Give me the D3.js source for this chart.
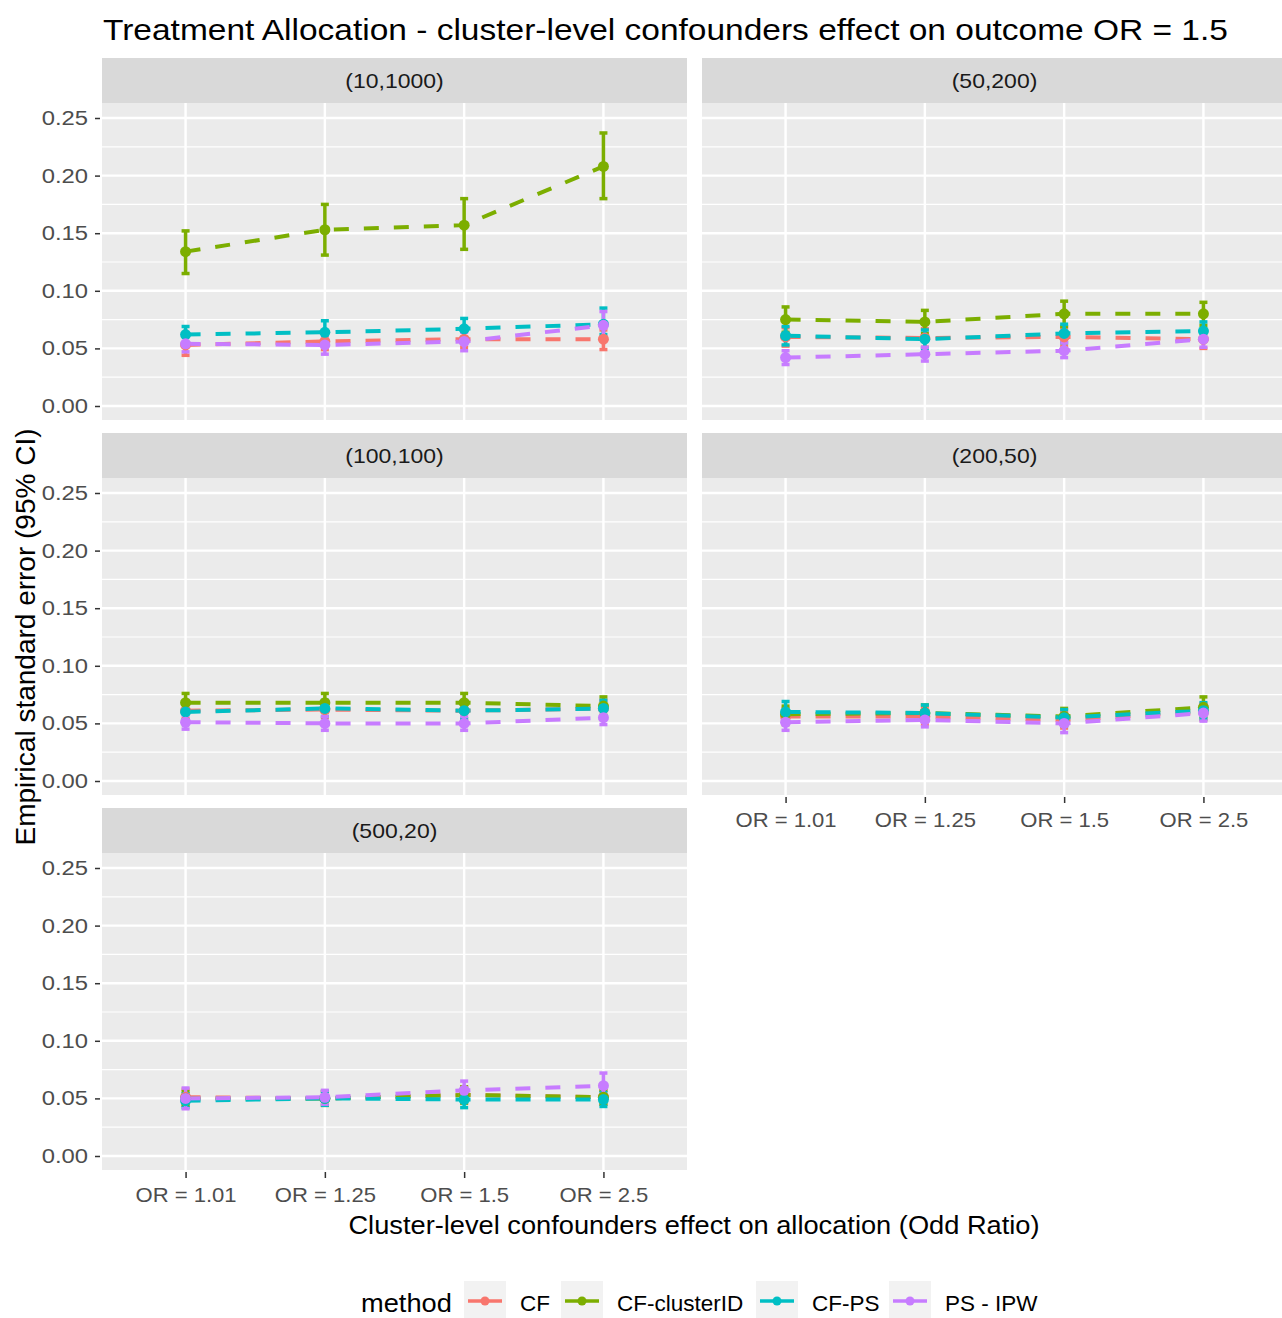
<!DOCTYPE html>
<html>
<head>
<meta charset="utf-8">
<script src="https://cdn.jsdelivr.net/npm/d3@7"></script>
<style>
  html, body { margin: 0; padding: 0; background: #fff; }
  svg { display: block; font-family: "Liberation Sans", Arial, sans-serif; }
</style>
</head>
<body>
<svg id="chart" width="1282" height="1318"></svg>
<script>
// Odds-ratio levels on the x axis (discrete)
const orLevels = ["OR = 1.01", "OR = 1.25", "OR = 1.5", "OR = 2.5"];
// Facet panels: (number of clusters, cluster size)
const panels = ["(10,1000)", "(50,200)", "(100,100)", "(200,50)", "(500,20)"];
const methods = ["CF", "CF-clusterID", "CF-PS", "PS - IPW"];
const methodColors = ["#F8766D", "#7CAE00", "#00BFC4", "#C77CFF"];
const yTicks = [0, 0.05, 0.10, 0.15, 0.20, 0.25];

// Empirical standard error, one row per panel, one value per OR level
const estCF = [
  [0.053, 0.056, 0.058, 0.058],
  [0.060, 0.059, 0.060, 0.058],
  [0.061, 0.062, 0.061, 0.063],
  [0.056, 0.056, 0.053, 0.060],
  [0.051, 0.050, 0.053, 0.051]
];
const estClusterID = [
  [0.134, 0.153, 0.157, 0.208],
  [0.075, 0.073, 0.080, 0.080],
  [0.068, 0.068, 0.068, 0.065],
  [0.058, 0.059, 0.056, 0.064],
  [0.050, 0.050, 0.053, 0.051]
];
const estPS = [
  [0.062, 0.064, 0.067, 0.071],
  [0.061, 0.058, 0.063, 0.065],
  [0.060, 0.063, 0.061, 0.063],
  [0.060, 0.059, 0.055, 0.061],
  [0.048, 0.050, 0.049, 0.049]
];
const estIPW = [
  [0.054, 0.053, 0.056, 0.070],
  [0.042, 0.045, 0.048, 0.058],
  [0.051, 0.050, 0.050, 0.055],
  [0.051, 0.053, 0.050, 0.059],
  [0.050, 0.051, 0.057, 0.061]
];

// Lower / upper 95% CI bounds, same layout
const loCF = [
  [0.044, 0.049, 0.051, 0.049],
  [0.052, 0.051, 0.052, 0.050],
  [0.054, 0.055, 0.054, 0.056],
  [0.049, 0.049, 0.046, 0.053],
  [0.044, 0.044, 0.046, 0.045]
];
const hiCF = [
  [0.061, 0.063, 0.065, 0.066],
  [0.068, 0.067, 0.068, 0.066],
  [0.068, 0.069, 0.068, 0.070],
  [0.063, 0.063, 0.060, 0.067],
  [0.058, 0.056, 0.060, 0.057]
];
const loClusterID = [
  [0.115, 0.131, 0.136, 0.180],
  [0.064, 0.063, 0.069, 0.070],
  [0.060, 0.060, 0.060, 0.057],
  [0.051, 0.052, 0.049, 0.056],
  [0.044, 0.044, 0.046, 0.045]
];
const hiClusterID = [
  [0.152, 0.175, 0.180, 0.237],
  [0.086, 0.083, 0.091, 0.090],
  [0.076, 0.076, 0.076, 0.073],
  [0.065, 0.066, 0.063, 0.073],
  [0.056, 0.056, 0.060, 0.057]
];
const loPS = [
  [0.054, 0.056, 0.059, 0.062],
  [0.053, 0.050, 0.055, 0.057],
  [0.053, 0.056, 0.054, 0.056],
  [0.052, 0.052, 0.048, 0.054],
  [0.042, 0.044, 0.042, 0.043]
];
const hiPS = [
  [0.069, 0.074, 0.076, 0.085],
  [0.069, 0.066, 0.071, 0.073],
  [0.067, 0.070, 0.068, 0.070],
  [0.069, 0.066, 0.062, 0.068],
  [0.054, 0.056, 0.055, 0.055]
];
const loIPW = [
  [0.047, 0.045, 0.048, 0.057],
  [0.036, 0.039, 0.042, 0.051],
  [0.045, 0.044, 0.044, 0.049],
  [0.044, 0.047, 0.042, 0.052],
  [0.041, 0.045, 0.050, 0.053]
];
const hiIPW = [
  [0.061, 0.061, 0.064, 0.082],
  [0.048, 0.051, 0.055, 0.065],
  [0.057, 0.056, 0.056, 0.061],
  [0.058, 0.059, 0.058, 0.066],
  [0.059, 0.057, 0.065, 0.072]
];

const estByMethod = [estCF, estClusterID, estPS, estIPW];
const loByMethod = [loCF, loClusterID, loPS, loIPW];
const hiByMethod = [hiCF, hiClusterID, hiPS, hiIPW];

// ---- layout ----
const svg = d3.select("#chart");
const colX = [102, 702];
const rowY = [58, 433, 808];     // top of each strip
const panelW = 585, stripH = 45, panelH = 317;
const axisGrey = "#4D4D4D";

// Text drawn with a horizontal stretch around its anchor point
function wideText(parent, x, y, sx, str) {
  return parent.append("text")
    .attr("transform", `translate(${x},${y}) scale(${sx},1)`)
    .text(str);
}
// Re-anchor d3 axis tick labels so they can be stretched horizontally
function stretchTicks(axisG, sx) {
  axisG.selectAll(".tick text").each(function () {
    const t = d3.select(this);
    const x0 = +t.attr("x") || 0, y0 = +t.attr("y") || 0;
    t.attr("x", 0).attr("y", 0).attr("transform", `translate(${x0},${y0}) scale(${sx},1)`);
  });
}

// Title
wideText(svg, 103, 40, 1.155, "Treatment Allocation - cluster-level confounders effect on outcome OR = 1.5")
  .attr("font-size", 29).attr("fill", "#000");

const x = d3.scalePoint().domain(orLevels).range([0, panelW]).padding(0.6);

panels.forEach((name, p) => {
  const col = p % 2, row = Math.floor(p / 2);
  const px = colX[col], sy = rowY[row], py = sy + stripH;
  const y = d3.scaleLinear().domain([0, 0.25]).range([303, 15]);
  const g = svg.append("g").attr("transform", `translate(${px},${py})`);

  // strip
  svg.append("rect").attr("x", px).attr("y", sy).attr("width", panelW).attr("height", stripH)
    .attr("fill", "#D9D9D9");
  wideText(svg, px + panelW / 2, sy + stripH / 2 + 7, 1.15, name)
    .attr("text-anchor", "middle").attr("font-size", 20).attr("fill", "#1A1A1A");

  // panel background
  g.append("rect").attr("width", panelW).attr("height", panelH).attr("fill", "#EBEBEB");

  // minor grid
  const minor = d3.range(0.025, 0.26, 0.05);
  g.selectAll(".minor").data(minor).join("line")
    .attr("x1", 0).attr("x2", panelW)
    .attr("y1", d => y(d)).attr("y2", d => y(d))
    .attr("stroke", "#fff").attr("stroke-width", 1.2);
  // major grid
  g.selectAll(".major").data(yTicks).join("line")
    .attr("x1", 0).attr("x2", panelW)
    .attr("y1", d => y(d)).attr("y2", d => y(d))
    .attr("stroke", "#fff").attr("stroke-width", 2.4);
  g.selectAll(".vgrid").data(orLevels).join("line")
    .attr("x1", d => x(d)).attr("x2", d => x(d))
    .attr("y1", 0).attr("y2", panelH)
    .attr("stroke", "#fff").attr("stroke-width", 2.4);

  // y axis on left column
  if (col === 0) {
    const ya = g.append("g").call(d3.axisLeft(y).tickValues(yTicks)
      .tickFormat(d3.format(".2f")).tickSize(5).tickPadding(9));
    ya.select(".domain").remove();
    ya.selectAll("line").attr("stroke", "#333").attr("stroke-width", 1.5).attr("transform", "translate(-2,0)");
    ya.selectAll("text").attr("font-size", 20).attr("fill", axisGrey)
      .attr("font-family", "Liberation Sans, Arial, sans-serif");
    stretchTicks(ya, 1.19);
  }
  // x axis under bottom panel of each column
  if (p === 3 || p === 4) {
    const xa = g.append("g").attr("transform", `translate(0,${panelH})`)
      .call(d3.axisBottom(x).tickSize(6).tickPadding(8));
    xa.select(".domain").remove();
    xa.selectAll("line").attr("stroke", "#333").attr("stroke-width", 1.5).attr("transform", "translate(0,2)");
    xa.selectAll("text").attr("font-size", 21).attr("fill", axisGrey)
      .attr("font-family", "Liberation Sans, Arial, sans-serif").attr("dy", "0.85em");
    stretchTicks(xa, 1.05);
  }

  const line = d3.line().x((d, i) => x(orLevels[i])).y(d => y(d));

  // dashed lines
  methods.forEach((m, k) => {
    g.append("path").datum(estByMethod[k][p])
      .attr("d", line).attr("fill", "none")
      .attr("stroke", methodColors[k]).attr("stroke-width", 4)
      .attr("stroke-dasharray", "15,15");
  });
  // error bars
  methods.forEach((m, k) => {
    const lo = loByMethod[k][p], hi = hiByMethod[k][p];
    orLevels.forEach((lvl, i) => {
      const cx = x(lvl);
      const eb = g.append("g").attr("stroke", methodColors[k]).attr("stroke-width", 3.5);
      eb.append("line").attr("x1", cx).attr("x2", cx).attr("y1", y(lo[i])).attr("y2", y(hi[i]));
      eb.append("line").attr("x1", cx - 4).attr("x2", cx + 4).attr("y1", y(lo[i])).attr("y2", y(lo[i]));
      eb.append("line").attr("x1", cx - 4).attr("x2", cx + 4).attr("y1", y(hi[i])).attr("y2", y(hi[i]));
    });
  });
  // points
  methods.forEach((m, k) => {
    g.selectAll(null).data(estByMethod[k][p]).join("circle")
      .attr("cx", (d, i) => x(orLevels[i])).attr("cy", d => y(d))
      .attr("r", 5.5).attr("fill", methodColors[k]);
  });
});

// Axis titles
wideText(svg, 694, 1234, 1.09, "Cluster-level confounders effect on allocation (Odd Ratio)")
  .attr("text-anchor", "middle").attr("font-size", 25).attr("fill", "#000");
svg.append("text").attr("transform", "translate(35,637) rotate(-90)")
  .attr("text-anchor", "middle").attr("font-size", 28).attr("fill", "#000")
  .text("Empirical standard error  (95% CI)");

// Legend
const leg = svg.append("g");
wideText(leg, 361, 1312, 1.09, "method").attr("font-size", 25).attr("fill", "#000");
const keyX = [464, 561, 756, 889];
methods.forEach((m, k) => {
  const kx = keyX[k];
  leg.append("rect").attr("x", kx).attr("y", 1281).attr("width", 42).attr("height", 42).attr("fill", "#F2F2F2");
  leg.append("line").attr("x1", kx + 4).attr("x2", kx + 38).attr("y1", 1301).attr("y2", 1301)
    .attr("stroke", methodColors[k]).attr("stroke-width", 3.5);
  leg.append("circle").attr("cx", kx + 21).attr("cy", 1301).attr("r", 4.5).attr("fill", methodColors[k]);
  leg.append("text").attr("x", kx + 56).attr("y", 1311).attr("font-size", 22.5).attr("fill", "#000").text(m);
});
</script>
</body>
</html>
